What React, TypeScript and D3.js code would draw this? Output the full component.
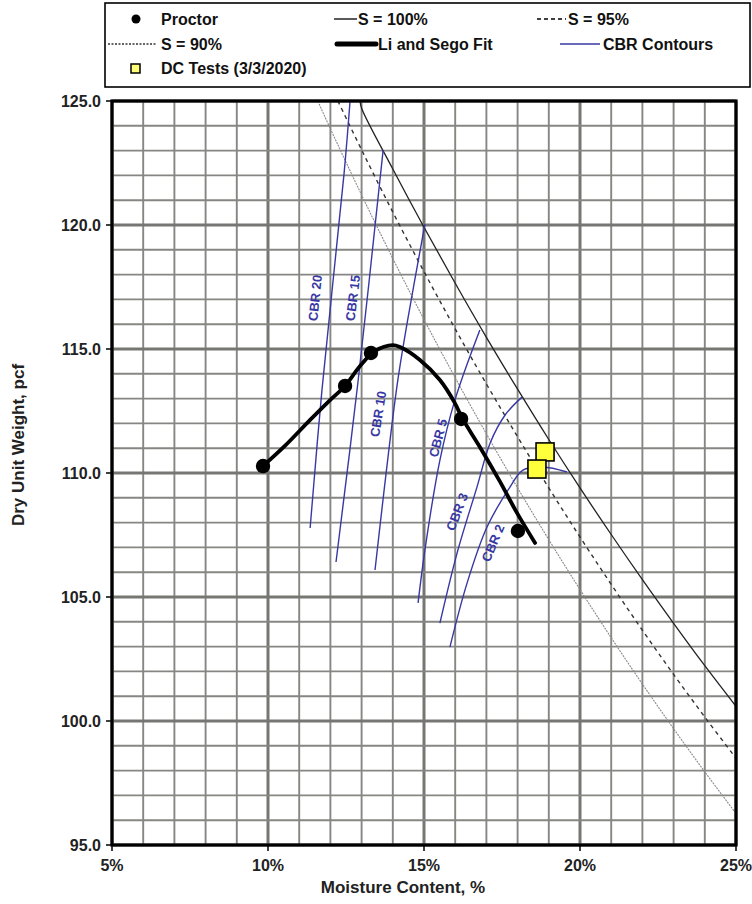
import React from "react";
import * as d3 from "d3";

// ---------- data ----------
const xTickValues = [5, 10, 15, 20, 25];
const xTickLabels = ["5%", "10%", "15%", "20%", "25%"];
const yTickValues = [95, 100, 105, 110, 115, 120, 125];
const yTickLabels = ["95.0", "100.0", "105.0", "110.0", "115.0", "120.0", "125.0"];

const proctorW = [9.84, 12.47, 13.3, 16.19, 18.01];
const proctorG = [110.28, 113.51, 114.84, 112.18, 107.66];

const fitW = [9.84, 10.54, 11.35, 11.99, 12.47, 12.95, 13.43, 14.0, 14.23, 14.87, 15.51, 15.99, 16.22, 16.79, 17.44, 17.98, 18.56];
const fitG = [110.28, 111.09, 112.14, 112.94, 113.51, 114.31, 114.92, 115.16, 115.08, 114.56, 113.75, 112.82, 112.22, 111.05, 109.64, 108.39, 107.18];

const s100W = [12.95, 13, 14, 15, 16, 17, 18, 19, 20, 21, 22, 23, 24, 25];
const s100G = [125.0, 124.71, 122.26, 119.91, 117.65, 115.47, 113.38, 111.35, 109.4, 107.52, 105.7, 103.94, 102.23, 100.59];

const s95W = [12.24, 13, 14, 15, 16, 17, 18, 19, 20, 21, 22, 23, 24, 25];
const s95G = [125.0, 123.03, 120.52, 118.12, 115.81, 113.59, 111.46, 109.4, 107.42, 105.51, 103.66, 101.88, 100.16, 98.5];

const s90W = [11.6, 12, 13, 14, 15, 16, 17, 18, 19, 20, 21, 22, 23, 24, 25];
const s90G = [124.99, 123.88, 121.21, 118.65, 116.19, 113.84, 111.58, 109.4, 107.31, 105.3, 103.36, 101.49, 99.69, 97.95, 96.27];

const cbr20W = [11.35, 11.73, 12.44, 12.63];
const cbr20G = [107.78, 113.35, 122.1, 125.0];
const cbr15W = [12.18, 12.88, 13.69];
const cbr15G = [106.41, 113.63, 123.02];
const cbr10W = [13.43, 14.13, 14.46, 15.03];
const cbr10G = [106.09, 113.47, 116.05, 120.04];
const cbr5W = [14.81, 15.03, 15.51, 15.99, 16.79];
const cbr5G = [104.76, 106.9, 110.52, 112.94, 115.77];
const cbr3W = [15.51, 16.06, 16.7, 17.12, 17.6, 18.14];
const cbr3G = [103.95, 106.77, 109.44, 111.21, 112.34, 113.06];
const cbr2W = [15.83, 16.38, 17.02, 17.76, 18.17, 18.81, 19.58];
const cbr2G = [102.98, 105.56, 107.82, 109.44, 110.12, 110.24, 110.04];

const cbrLabels = ["CBR 20", "CBR 15", "CBR 10", "CBR 5", "CBR 3", "CBR 2"];
const cbrLabelW = [11.51, 12.72, 13.53, 15.45, 16.06, 17.21];
const cbrLabelG = [117.06, 117.06, 112.38, 111.41, 108.43, 107.18];
const cbrLabelAngle = [-84, -83, -81, -75, -69, -67];

const dcW = [18.88, 18.62];
const dcG = [110.85, 110.16];

const legendLabels = ["Proctor", "S = 100%", "S = 95%", "S = 90%", "Li and Sego Fit", "CBR Contours", "DC Tests (3/3/2020)"];

// ---------- component ----------
const FONT = "'Liberation Sans', Arial, sans-serif";
const BLUE = "#3838a4";

function zip(a: number[], b: number[]): [number, number][] {
  return a.map((v, i) => [v, b[i]]);
}

export default function App() {
  const x = d3.scaleLinear().domain([5, 25]).range([112, 736]);
  const y = d3.scaleLinear().domain([95, 125]).range([845, 101]);
  const curve = d3
    .line<[number, number]>()
    .x((d) => x(d[0]))
    .y((d) => y(d[1]))
    .curve(d3.curveCatmullRom.alpha(0.5));

  const gridX = d3.range(5, 26, 1);
  const gridY = d3.range(95, 126, 1);
  const [x0, x1] = x.range();
  const [y0, y1] = y.range();

  const cbrLines = [
    zip(cbr20W, cbr20G),
    zip(cbr15W, cbr15G),
    zip(cbr10W, cbr10G),
    zip(cbr5W, cbr5G),
    zip(cbr3W, cbr3G),
    zip(cbr2W, cbr2G),
  ];

  return (
    <svg
      width={752}
      height={904}
      style={{ position: "absolute", left: 0, top: 0, background: "#fff" }}
      fontFamily={FONT}
    >
      <defs>
        <clipPath id="plot">
          <rect x={x0} y={y1} width={x1 - x0} height={y0 - y1} />
        </clipPath>
      </defs>
      <rect x={0} y={0} width={752} height={904} fill="#fff" />

      {/* grid */}
      {gridX.map((v) => (
        <line
          key={"gx" + v}
          x1={x(v)}
          x2={x(v)}
          y1={y1}
          y2={y0}
          stroke={v % 5 === 0 ? "#767672" : "#868682"}
          strokeWidth={v % 5 === 0 ? 3 : 1.9}
        />
      ))}
      {gridY.map((v) => (
        <line
          key={"gy" + v}
          y1={y(v)}
          y2={y(v)}
          x1={x0}
          x2={x1}
          stroke={v % 5 === 0 ? "#767672" : "#868682"}
          strokeWidth={v % 5 === 0 ? 3 : 1.9}
        />
      ))}

      <g clipPath="url(#plot)">
        {/* saturation lines */}
        <path d={curve(zip(s90W, s90G)) || ""} fill="none" stroke="#8a8a8a" strokeWidth={1.1} strokeDasharray="2,1" />
        <path d={curve(zip(s95W, s95G)) || ""} fill="none" stroke="#333" strokeWidth={1.4} strokeDasharray="4,4" />
        <path d={curve(zip(s100W, s100G)) || ""} fill="none" stroke="#222" strokeWidth={1.3} />

        {/* CBR contours */}
        {cbrLines.map((pts, i) => (
          <path key={"cbr" + i} d={curve(pts) || ""} fill="none" stroke={BLUE} strokeWidth={1.4} />
        ))}

        {/* Li and Sego fit */}
        <path
          d={curve(zip(fitW, fitG)) || ""}
          fill="none"
          stroke="#000"
          strokeWidth={3.8}
          strokeLinecap="round"
        />

        {/* Proctor points */}
        {proctorW.map((w, i) => (
          <circle key={"p" + i} cx={x(w)} cy={y(proctorG[i])} r={7.2} fill="#000" />
        ))}

        {/* DC tests */}
        {dcW.map((w, i) => (
          <rect
            key={"dc" + i}
            x={x(w) - 9}
            y={y(dcG[i]) - 9}
            width={18}
            height={18}
            fill="#ffff3c"
            stroke="#000"
            strokeWidth={1.6}
          />
        ))}
      </g>

      {/* CBR labels */}
      {cbrLabels.map((t, i) => (
        <text
          key={"cl" + i}
          transform={`translate(${x(cbrLabelW[i])},${y(cbrLabelG[i])}) rotate(${cbrLabelAngle[i]})`}
          textAnchor="middle"
          dy="0.35em"
          fontSize={13}
          fontWeight="bold"
          fill={BLUE}
        >
          {t}
        </text>
      ))}

      {/* frame */}
      <rect x={x0} y={y1} width={x1 - x0} height={y0 - y1} fill="none" stroke="#000" strokeWidth={3.2} />

      {/* ticks */}
      {yTickValues.map((v, i) => (
        <g key={"yt" + v}>
          <line x1={x0 - 6} x2={x0} y1={y(v)} y2={y(v)} stroke="#000" strokeWidth={1.5} />
          <text x={x0 - 11} y={y(v)} dy="0.36em" textAnchor="end" fontSize={16} fontWeight="bold" fill="#222">
            {yTickLabels[i]}
          </text>
        </g>
      ))}
      {xTickValues.map((v, i) => (
        <g key={"xt" + v}>
          <line x1={x(v)} x2={x(v)} y1={y0} y2={y0 + 6} stroke="#000" strokeWidth={1.5} />
          <text x={x(v)} y={871} textAnchor="middle" fontSize={16} fontWeight="bold" fill="#222">
            {xTickLabels[i]}
          </text>
        </g>
      ))}

      {/* axis titles */}
      <text x={403} y={893} textAnchor="middle" fontSize={17} fontWeight="bold" fill="#222">
        Moisture Content, %
      </text>
      <text
        transform="translate(24,445) rotate(-90)"
        textAnchor="middle"
        fontSize={17}
        fontWeight="bold"
        fill="#222"
      >
        Dry Unit Weight, pcf
      </text>

      {/* legend */}
      <rect x={105} y={3} width={645} height={84} fill="#fff" stroke="#000" strokeWidth={1.6} />
      <g fontSize={16} fontWeight="bold" fill="#111">
        <circle cx={136} cy={19} r={4.5} fill="#000" />
        <text x={161} y={25}>{legendLabels[0]}</text>

        <line x1={334} x2={357} y1={19} y2={19} stroke="#000" strokeWidth={1.3} />
        <text x={358} y={25}>{legendLabels[1]}</text>

        <line x1={537} x2={566} y1={19} y2={19} stroke="#000" strokeWidth={1.4} strokeDasharray="4,3" />
        <text x={568} y={25}>{legendLabels[2]}</text>

        <line x1={108} x2={157} y1={44} y2={44} stroke="#333" strokeWidth={1.3} strokeDasharray="2,1.5" />
        <text x={161} y={50}>{legendLabels[3]}</text>

        <line x1={337} x2={376} y1={44} y2={44} stroke="#000" strokeWidth={5} strokeLinecap="round" />
        <text x={378} y={50}>{legendLabels[4]}</text>

        <line x1={560} x2={600} y1={44} y2={44} stroke={BLUE} strokeWidth={1.4} />
        <text x={603} y={50}>{legendLabels[5]}</text>

        <rect x={131} y={64} width={9} height={9} fill="#ffff7a" stroke="#000" strokeWidth={1.5} />
        <text x={161} y={74}>{legendLabels[6]}</text>
      </g>
    </svg>
  );
}
